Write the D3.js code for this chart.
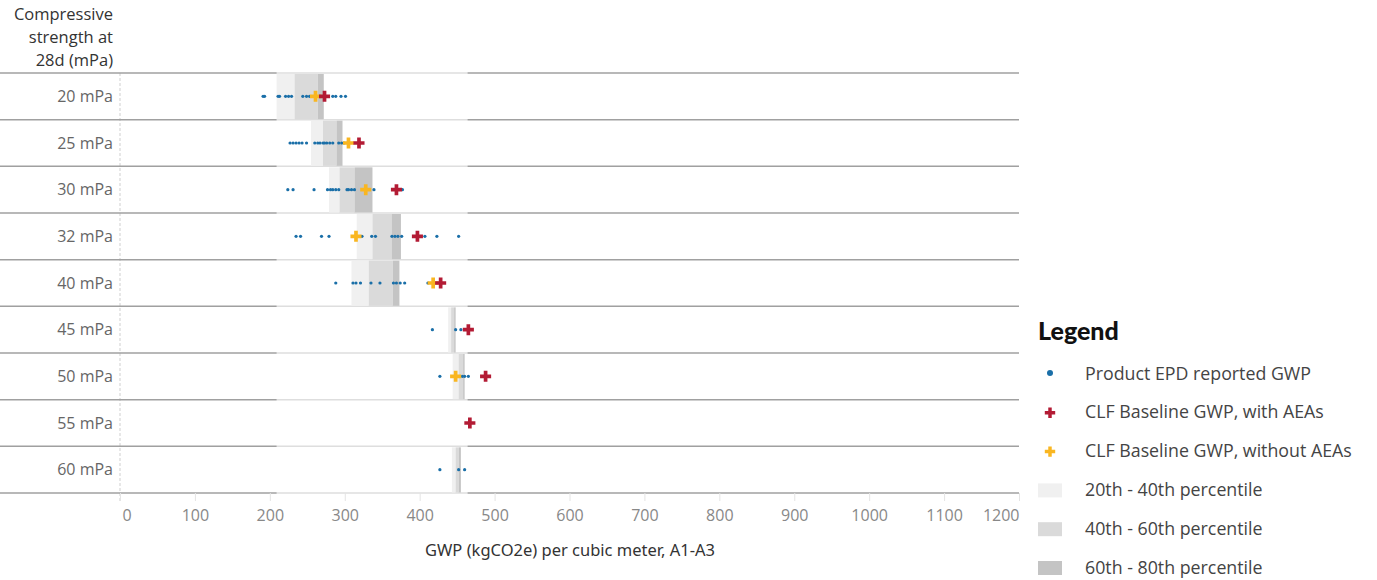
<!DOCTYPE html>
<html><head><meta charset="utf-8">
<script src="https://cdn.jsdelivr.net/npm/d3@7"></script>
<style>body{margin:0;background:#fff;} svg{display:block;}</style>
</head><body><svg id="c" width="1377" height="580"></svg>
<script>
const categories = ["20 mPa","25 mPa","30 mPa","32 mPa","40 mPa","45 mPa","50 mPa","55 mPa","60 mPa"];
const p20 = [209, 255, 279, 316, 309, 438, 444, null, 443];
const p40 = [233, 271, 293, 337, 332, 442, 452, null, 448];
const p60 = [264, 289, 313, 363, 364, 446, 458, null, 452];
const p80 = [272, 297, 337, 375, 373, 448, 460, null, 455];
const withAEA = [273, 319, 369, 397, 428, 465, 488, 467, null];
const withoutAEA = [261, 305, 328, 315, 418, null, 448, null, null];
const epd = [
  [191,193,211,213,221,225,229,244,249,253,266,284,288,295,301],
  [227,231,235,239,243,249,260,264,267,271,273,276,280,284,292,296,299],
  [224,231,259,277,281,284,288,292,303,305,309,313,339,377],
  [235,241,269,279,323,336,341,363,367,371,376,407,423,452],
  [288,311,315,321,335,347,365,369,374,380,411],
  [417,448,455],
  [427,457,460,465],
  [],
  [427,452,460]
];
const xTicks = [0,100,200,300,400,500,600,700,800,900,1000,1100,1200];
const shadeRange = [209, 464];
const legendItems = [
  {type:"dot", label:"Product EPD reported GWP"},
  {type:"red", label:"CLF Baseline GWP, with AEAs"},
  {type:"yellow", label:"CLF Baseline GWP, without AEAs"},
  {type:"b1", label:"20th - 40th percentile"},
  {type:"b2", label:"40th - 60th percentile"},
  {type:"b3", label:"60th - 80th percentile"}
];

const C = {blue:"#1a6fa8", red:"#b31b34", yellow:"#f9b621", b1:"#f0f0f0", b2:"#dadada", b3:"#c4c4c4"};
const FONT = "'Open Sans', 'Noto Sans', sans-serif";
const svg = d3.select("#c");
const x = d3.scaleLinear().domain([0,1200]).range([120,1019]);
const y = d3.scaleBand().domain(categories).range([73,493]).padding(0);
const bw = y.bandwidth();

// header
const hdr = svg.append("text").attr("text-anchor","end").attr("font-family",FONT).attr("font-size",16.5).attr("fill","#333");
["Compressive","strength at","28d (mPa)"].forEach((t,i)=>hdr.append("tspan").attr("x",113).attr("y",20+i*23).text(t));

// zero dashed line
svg.append("line").attr("x1",x(0)).attr("x2",x(0)).attr("y1",73).attr("y2",502)
  .attr("stroke","#cfcfcf").attr("stroke-dasharray","3,2");

// row separators
const lines = [73].concat(categories.map(c=>y(c)+bw));
svg.selectAll(".sep").data(lines).join("line").attr("x1",0).attr("x2",1019)
  .attr("y1",d=>d).attr("y2",d=>d).attr("stroke","#a0a0a0").attr("stroke-width",1.5);

// faint overlay
svg.append("rect").attr("x",x(shadeRange[0])).attr("width",x(shadeRange[1])-x(shadeRange[0]))
  .attr("y",72).attr("height",493-72+1).attr("fill","#fff").attr("opacity",0.65);

// bands
const bands = [];
categories.forEach((c,i)=>{
  if(p20[i]==null) return;
  bands.push({c, a:p20[i], b:p40[i], f:C.b1});
  bands.push({c, a:p40[i], b:p60[i], f:C.b2});
  bands.push({c, a:p60[i], b:p80[i], f:C.b3});
});
svg.selectAll(".band").data(bands).join("rect")
  .attr("x",d=>x(d.a)).attr("width",d=>Math.max(0.5,x(d.b)-x(d.a)))
  .attr("y",d=>y(d.c)+1).attr("height",bw-1.5).attr("fill",d=>d.f);

// row labels
svg.selectAll(".rl").data(categories).join("text").attr("x",113).attr("y",d=>y(d)+bw/2+5.5)
  .attr("text-anchor","end").attr("font-family",FONT).attr("font-size",16).attr("fill","#666").text(d=>d);

// dots
const dots = [];
epd.forEach((arr,i)=>arr.forEach(v=>dots.push({c:categories[i],v})));
svg.selectAll(".dot").data(dots).join("circle").attr("cx",d=>x(d.v)).attr("cy",d=>y(d.c)+bw/2)
  .attr("r",1.6).attr("fill",C.blue);

const cross = d3.symbol().type(d3.symbolCross).size(68);
const yel = categories.map((c,i)=>({c,v:withoutAEA[i]})).filter(d=>d.v!=null);
svg.selectAll(".yel").data(yel).join("path").attr("d",cross)
  .attr("transform",d=>`translate(${x(d.v)},${y(d.c)+bw/2})`).attr("fill",C.yellow);
const red = categories.map((c,i)=>({c,v:withAEA[i]})).filter(d=>d.v!=null);
svg.selectAll(".red").data(red).join("path").attr("d",cross)
  .attr("transform",d=>`translate(${x(d.v)},${y(d.c)+bw/2})`).attr("fill",C.red);

// x axis
const ax = svg.append("g").attr("transform","translate(0,493)")
  .call(d3.axisBottom(x).tickValues(xTicks).tickSize(8).tickFormat(d3.format("d")));
ax.select(".domain").remove();
ax.selectAll(".tick line").attr("stroke","#e4e4e4");
ax.selectAll(".tick text").attr("font-family",FONT).attr("font-size",16).attr("fill","#888").attr("dy","1.05em")
  .attr("text-anchor",(d,i,n)=>i===0?"start":(i===n.length-1?"end":"middle"))
  .attr("dx",(d,i)=>i===0?2:0);
svg.append("text").attr("x",570).attr("y",556).attr("text-anchor","middle").attr("font-family","'Noto Sans', sans-serif")
  .attr("font-size",16.5).attr("fill","#333").text("GWP (kgCO2e) per cubic meter, A1-A3");

// legend
svg.append("text").attr("x",1038).attr("y",340).attr("font-family","'Lato', sans-serif").attr("font-weight",900)
  .attr("font-size",25).attr("fill","#111").text("Legend");
const lg = svg.selectAll(".lg").data(legendItems).join("g").attr("transform",(d,i)=>`translate(0,${373+i*38.8})`);
lg.each(function(d){
  const g = d3.select(this);
  if(d.type==="dot") g.append("circle").attr("cx",1050).attr("cy",0).attr("r",3).attr("fill",C.blue);
  else if(d.type==="red"||d.type==="yellow") g.append("path").attr("d",d3.symbol().type(d3.symbolCross).size(60))
    .attr("transform","translate(1050,1)").attr("fill",C[d.type]);
  else g.append("rect").attr("x",1038).attr("y",-6).attr("width",24).attr("height",14).attr("fill",C[d.type]);
  g.append("text").attr("x",1085).attr("y",6.5).attr("font-family",FONT).attr("font-size",17.8).attr("fill","#444").text(d.label);
});
</script></body></html>
